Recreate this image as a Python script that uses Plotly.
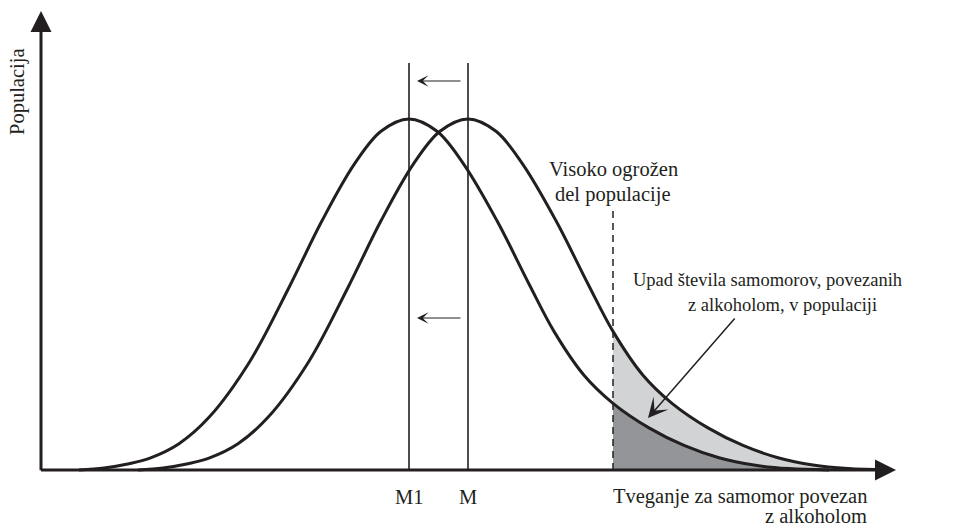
import plotly.graph_objects as go

# Relative shape of the risk distribution: offset from the mean and height (peak = 1)
profile_offset = [-330, -305, -280, -259, -230, -200, -159, -120, -87, -55, -28, 0,
                  28, 55, 88, 120, 145, 175, 204, 240, 275, 310, 345, 380, 420]
profile_height = [0.0, 0.006, 0.018, 0.034, 0.075, 0.15, 0.31, 0.52, 0.71, 0.87, 0.965, 1.0,
                  0.965, 0.87, 0.71, 0.53, 0.395, 0.27, 0.19, 0.12, 0.07, 0.035, 0.014, 0.004, 0.0]

# Population means: after the shift (M1) and before it (M)
mean_labels = ["M1", "M"]
mean_values = [368, 427]

# Start of the high-risk part of the population
high_risk_threshold = 572

INK = "#231f20"
DARK_GREY = "#939598"
LIGHT_GREY = "#d1d3d4"
FONT = dict(family="Liberation Serif", size=20.5, color=INK)
SMALL_FONT = dict(family="Liberation Serif", size=18.5, color=INK)


def curve(mean):
    xs = [mean + d for d in profile_offset]
    return xs, list(profile_height)


def tail(mean):
    xs, ys = curve(mean)
    pts = [(x, y) for x, y in zip(xs, ys) if x >= high_risk_threshold]
    return [p[0] for p in pts], [p[1] for p in pts]


fig = go.Figure()

# Shaded tails beyond the threshold
m1_tx, m1_ty = tail(mean_values[0])
m_tx, m_ty = tail(mean_values[1])
fig.add_trace(go.Scatter(x=m1_tx, y=m1_ty, mode="lines", fill="tozeroy",
                         fillcolor=DARK_GREY, line=dict(width=0, shape="spline"),
                         hoverinfo="skip"))
fig.add_trace(go.Scatter(x=m_tx, y=m_ty, mode="lines", fill="tonexty",
                         fillcolor=LIGHT_GREY, line=dict(width=0, shape="spline"),
                         hoverinfo="skip"))

# The two distribution curves
for mean in mean_values:
    xs, ys = curve(mean)
    fig.add_trace(go.Scatter(x=xs, y=ys, mode="lines",
                             line=dict(color=INK, width=3, shape="spline"),
                             hoverinfo="skip"))

shapes = []
for mean in mean_values:
    shapes.append(dict(type="line", xref="x", yref="y", x0=mean, x1=mean, y0=0, y1=1.1595,
                       line=dict(color=INK, width=1.6)))
shapes.append(dict(type="line", xref="x", yref="y", x0=high_risk_threshold,
                   x1=high_risk_threshold, y0=0, y1=0.7464,
                   line=dict(color=INK, width=1.5, dash="7px,5px")))

annotations = []


def arrow(x_tip, y_tip, x_tail, y_tail, head, size, width):
    annotations.append(dict(x=x_tip, y=y_tip, ax=x_tail, ay=y_tail, xref="x", yref="y",
                            axref="x", ayref="y", text="", showarrow=True,
                            arrowhead=head, arrowsize=size, arrowwidth=width,
                            arrowcolor=INK))


def label(text, x, y, xanchor="center", angle=0, font=FONT):
    annotations.append(dict(x=x, y=y, xref="x", yref="y", text=text, showarrow=False,
                            xanchor=xanchor, yanchor="middle", textangle=angle, font=font))


# Axes with arrowheads
arrow(855, 0, -1.5, 0, 2, 1.4, 3)
arrow(0, 1.3077, 0, -0.005, 2, 1.4, 3)

# Shift of the mean
arrow(mean_values[0] + 8, 1.1083, mean_values[1] - 6, 1.1083, 3, 1.6, 1.2)
arrow(mean_values[0] + 8, 0.433, mean_values[1] - 6, 0.433, 3, 1.6, 1.2)

# Pointer to the shaded difference
arrow(607, 0.148, 695, 0.436, 3, 2.2, 1.5)

label("Populacija", -24, 1.0769, angle=-90)
for name, mean in zip(mean_labels, mean_values):
    label(name, mean, -0.0769)
label("Tveganje za samomor povezan", 828, -0.0769, xanchor="right")
label("z alkoholom", 828, -0.1300, xanchor="right")
label("Visoko ogrožen", high_risk_threshold, 0.8575)
label("del populacije", high_risk_threshold, 0.7863)
label("Upad števila samomorov, povezanih", 726, 0.5413, font=SMALL_FONT)
label("z alkoholom, v populaciji", 741, 0.4701, font=SMALL_FONT)

fig.update_layout(
    width=960, height=526,
    margin=dict(l=0, r=0, t=0, b=0),
    paper_bgcolor="white", plot_bgcolor="white",
    showlegend=False,
    xaxis=dict(range=[-41, 919], visible=False, fixedrange=True),
    yaxis=dict(range=[-56 / 351, 470 / 351], visible=False, fixedrange=True),
    shapes=shapes,
    annotations=annotations,
)

fig.write_html("out.html")
